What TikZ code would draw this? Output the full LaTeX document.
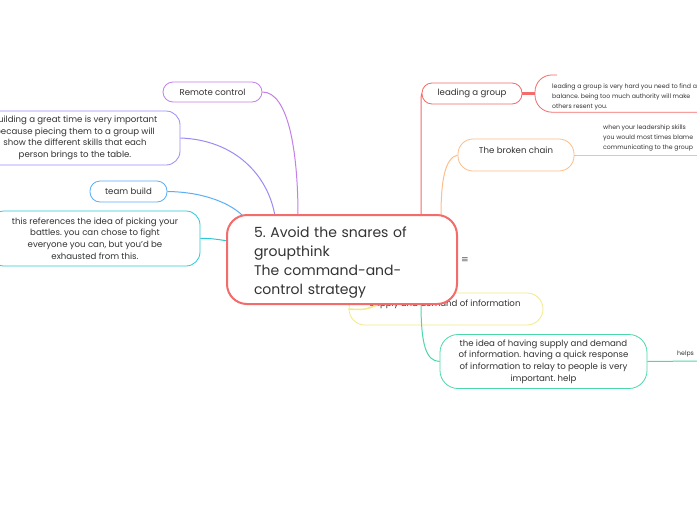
\documentclass[tikz,border=0pt]{standalone}
\usepackage{fontspec}
\setmainfont{Poppins}
\newfontfamily\symfont{DejaVu Sans}
\frenchspacing
\definecolor{cred}{HTML}{F36B6B}
\definecolor{cpur}{HTML}{C47FE8}
\definecolor{clav}{HTML}{9B8CF5}
\definecolor{cblu}{HTML}{5AAEF5}
\definecolor{ccya}{HTML}{2BC9D6}
\definecolor{cora}{HTML}{FDBE8A}
\definecolor{cyel}{HTML}{F3E987}
\definecolor{cgrn}{HTML}{4DD8A8}
\definecolor{txt}{HTML}{333333}
\begin{document}
\begin{tikzpicture}[x=1pt,y=-1pt,
  box/.style={draw, fill=white, line width=0.8pt, align=center, text=txt, inner sep=0pt},
  small/.style={font=\fontsize{8.6}{11.6}\selectfont},
  tiny/.style={font=\fontsize{6.2}{9.8}\selectfont, text=txt, inner sep=0pt, align=left},
  conn/.style={line width=1pt}]
\useasboundingbox (0,0) rectangle (697,520);
\fill[white] (0,0) rectangle (697,520);
\clip (0,0) rectangle (697,520);
% free-end coordinates on the central topic
\coordinate (crc) at (298,216);
\coordinate (cbl) at (275,216);
\coordinate (ctb) at (244,217);
\coordinate (cbt) at (229,241);
\coordinate (clg) at (421,216);
\coordinate (cbc) at (441,216);
\coordinate (csp) at (382,303);
\coordinate (cgr) at (421,303);
\coordinate (rbc) at (697,155);
\coordinate (rgr) at (697,361);
% nodes
\node[box, draw=cpur, rounded corners=10pt, minimum width=99pt, minimum height=20pt, small] (rc) at (212.5,92) {Remote control};
\node[box, draw=clav, rounded corners=14pt, minimum width=210pt, minimum height=54pt, small] (bld) at (75,138) {Building a great time is very important\\because piecing them to a group will\\show the different skills that each\\person brings to the table.};
\node[box, draw=cblu, rounded corners=10pt, minimum width=77pt, minimum height=21pt, small] (tb) at (128.5,191.5) {team build};
\node[box, draw=ccya, rounded corners=14pt, minimum width=210pt, minimum height=55pt, small] (bt) at (95,238.5) {this references the idea of picking your\\battles. you can chose to fight\\everyone you can, but you'd be\\exhausted from this.};
\node[box, draw=cred, rounded corners=10pt, minimum width=100pt, minimum height=21pt, small] (lg) at (472,93.5) {leading a group};
\node[box, draw=cora, rounded corners=15pt, minimum width=116pt, minimum height=32pt] (bc) at (516,155) {};
\node[small, text=txt, inner sep=0pt] (bct) at (516,150.5) {The broken chain};
\node[tiny, anchor=north west] (bcd) at (603,125) {when your leadership skills\\you would most times blame\\communicating to the group};
% connectors
\draw[conn, cpur] (rc.east) .. controls (288,92) and (298,150) .. (crc);
\draw[conn, clav] (bld.east) .. controls (235,140) and (268,175) .. (cbl);
\draw[conn, cblu] (tb.east) .. controls (205,192) and (232,204) .. (ctb);
\draw[conn, ccya] (bt.east) .. controls (212,238) and (220,240) .. (cbt);
\draw[conn, cred] (lg.west) .. controls (421,96) .. (421,112) -- (clg);
\draw[conn, cora] (bc.west) .. controls (445,158) and (441,180) .. (cbc);
\draw[conn, cora, line width=0.8pt] (bc.east) -- (rbc);
% leading-a-group detail
\node[inner sep=0pt, minimum width=225pt, minimum height=37pt, anchor=west] (lgd) at (535,93.5) {};
\draw[conn, cred, line width=3pt] (lg.east) -- (lgd.west);
\draw[cred, line width=0.8pt, rounded corners=17pt] (557,75) -- (lgd.north west) -- (lgd.south west) -- (lgd.south east);
\node[tiny, anchor=north west] (lgt) at (552,83.5) {leading a group is very hard you need to find a\\balance. being too much authority will make\\others resent you.};
% supply node (behind central)
\node[box, draw=cyel, rounded corners=16pt, minimum width=194pt, minimum height=32pt] (sp) at (446,309) {};
\node[small, text=txt, inner sep=0pt] (spt) at (445,304) {Supply and demand of information};
\draw[conn, cyel, line width=1.5pt] (sp.west) .. controls (365,310) .. (csp);
% green node
\node[box, draw=cgrn, rounded corners=18pt, minimum width=207pt, minimum height=54pt, small] (gr) at (543.5,361.5) {the idea of having supply and demand\\of information. having a quick response\\of information to relay to people is very\\important. help};
\draw[conn, cgrn] (cgr) .. controls (421,345) and (426,361) .. (gr.west);
\draw[conn, cgrn] (gr.east) -- (rgr);
\node[tiny, anchor=south west] (hp) at (677,357) {helps};
% central topic
\node[draw=cred, fill=white, line width=2pt, rounded corners=20pt, minimum width=230pt, minimum height=89pt, inner sep=0pt] (ct) at (342,259.5) {};
\node[text width=176pt, align=left, inner sep=0pt, text=txt, font=\fontsize{14}{19}\selectfont] (ctt) at (342,262.5) {5. Avoid the snares of\\groupthink\\The command-and-\\control strategy};
\node[text=txt!80, inner sep=0pt, font=\symfont\fontsize{9}{9}\selectfont] (ic) at (465,260) {≡};
\end{tikzpicture}
\end{document}
